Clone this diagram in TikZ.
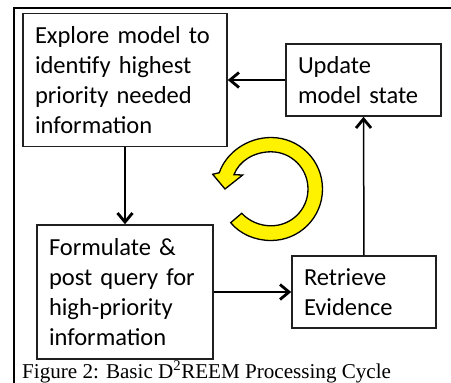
\documentclass[tikz,border=0pt]{standalone}
\usepackage{fontspec}
\setmainfont{Liberation Serif}
\newfontfamily\boxfont{Carlito}
\usetikzlibrary{arrows.meta}
\definecolor{linegray}{HTML}{202020}
\tikzset{
  procbox/.style={draw=linegray,line width=1.6pt,fill=white,inner sep=0pt,align=left,
    font=\boxfont\fontsize{24.5}{30}\selectfont,text=black},
  flow/.style={draw=black,line width=1.5pt,
    -{Straight Barb[length=9pt,width=15pt,line width=2.8pt]}},
  frameline/.style={draw=black,line width=2.4pt},
  cyclearrow/.style={draw=black,line width=1.3pt,fill=yellow,line join=miter}
}
\begin{document}
\begin{tikzpicture}[x=1pt,y=-1pt]
\useasboundingbox[fill=white] (0,0) rectangle (451,383);
\draw[frameline] (14,383) -- (14,8) -- (451,8);

\node[procbox,minimum width=204pt,minimum height=133pt,text width=180pt] (explore) at (125,80)
  {Explore model to\\identify highest\\priority needed\\information};
\node[procbox,minimum width=155pt,minimum height=72pt,text width=131pt] (update) at (363.5,80)
  {Update\\model state};
\node[procbox,minimum width=176pt,minimum height=134pt,text width=152pt] (formulate) at (125,292)
  {Formulate \&\\post query for\\high-priority\\information};
\node[procbox,minimum width=144pt,minimum height=72pt,text width=120pt] (retrieve) at (364,292)
  {Retrieve\\Evidence};

\draw[flow] (explore.south) -- (formulate.north);
\draw[flow] (formulate.east) -- (retrieve.west);
\draw[flow] (retrieve.north) -- (update.south);
\draw[flow] (update.west) -- (explore.east);

% circular arrow (y axis points down)
\path[cyclearrow]
  (230.7,222.7)
  .. controls (240,234) and (255,240.5) .. (271,240.5)
  .. controls (299.5,240.5) and (322.5,217.5) .. (322.5,189)
  .. controls (322.5,160.5) and (299.5,137.5) .. (271,137.5)
  .. controls (247,137.5) and (226,153) .. (219.3,172.7)
  -- (212.7,174.3) -- (225,189) -- (242.7,175) -- (234,174.7)
  .. controls (239,161) and (254,151.8) .. (271,151.8)
  .. controls (291.5,151.8) and (308,168.5) .. (308,189)
  .. controls (308,209.5) and (291.5,225.8) .. (271,225.8)
  .. controls (259.5,225.8) and (249,221) .. (241.7,213.3)
  -- cycle;

\node[anchor=base west,inner sep=0pt,font=\fontsize{21.1}{24}\selectfont] (caption) at (22,378)
  {Figure 2: Basic D\textsuperscript{2}REEM Processing Cycle};
\end{tikzpicture}
\end{document}
